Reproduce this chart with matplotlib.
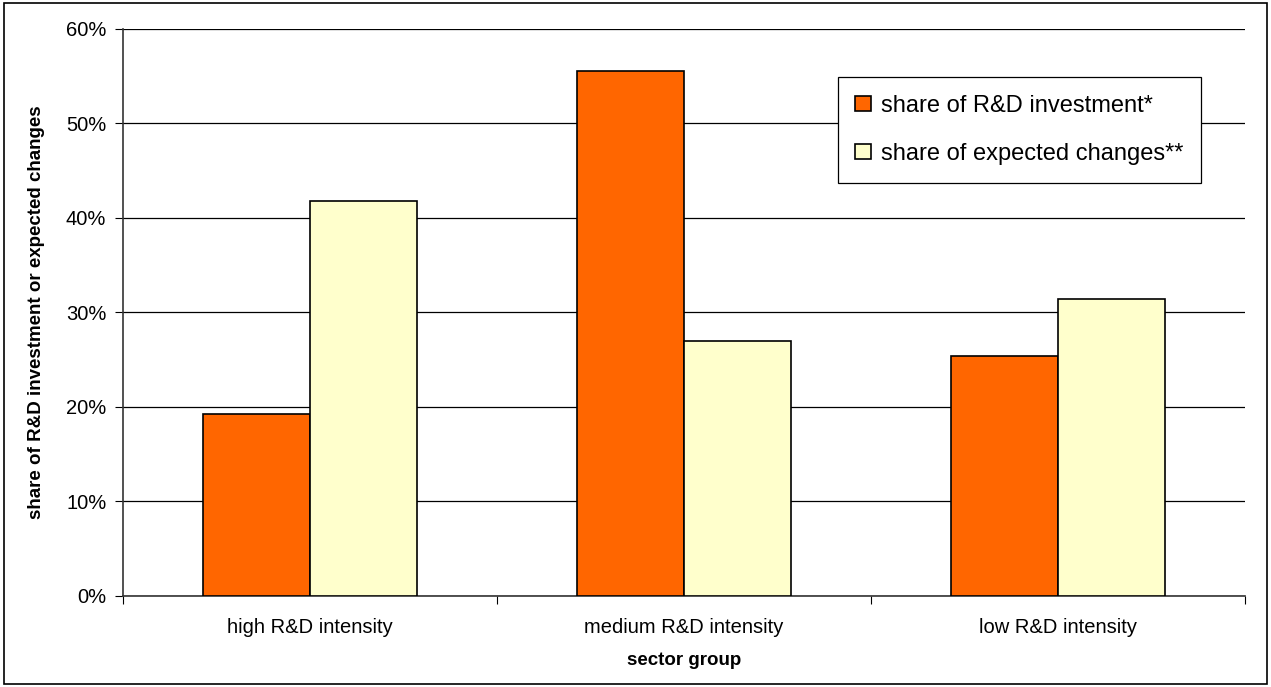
import numpy as np
import matplotlib.pyplot as plt
from matplotlib.ticker import PercentFormatter
from matplotlib.patches import Rectangle

plt.rcParams['font.family'] = ['Liberation Sans', 'DejaVu Sans']

categories = ['high R&D intensity', 'medium R&D intensity', 'low R&D intensity']
rd_investment = [19.3, 55.6, 25.4]
expected_changes = [41.8, 27.0, 31.4]
series_names = ['share of R&D investment*', 'share of expected changes**']

fig = plt.figure(figsize=(12.71, 6.87), dpi=100)
ax = fig.add_axes([0.0968, 0.1325, 0.8827, 0.8253])

x = np.arange(len(categories))
width = 0.286

ax.bar(x - width / 2, rd_investment, width=width, color='#FF6600',
       edgecolor='black', linewidth=1.2, label=series_names[0], zorder=3)
ax.bar(x + width / 2, expected_changes, width=width, color='#FFFFCC',
       edgecolor='black', linewidth=1.2, label=series_names[1], zorder=3)

ax.set_xlim(-0.5, len(categories) - 0.5)
ax.set_ylim(0, 60)
ax.set_yticks(np.arange(0, 61, 10))
ax.yaxis.set_major_formatter(PercentFormatter(decimals=0))

# category boundaries as tick marks, labels in the middle
ax.set_xticks(np.arange(-0.5, len(categories), 1))
ax.set_xticklabels([])
ax.set_xticks(x, minor=True)
ax.set_xticklabels(categories, minor=True)
ax.tick_params(axis='x', which='minor', length=0, pad=16, labelsize=14.5)
ax.tick_params(axis='x', which='major', length=6, direction='out', color='black')
ax.tick_params(axis='y', length=6, labelsize=14.5, pad=6)

ax.grid(axis='y', color='black', linewidth=0.9, zorder=0)
ax.spines['top'].set_visible(False)
ax.spines['right'].set_visible(False)
ax.spines['left'].set_linewidth(1.2)
ax.spines['bottom'].set_linewidth(1.2)
ax.spines['left'].set_color('#333333')
ax.spines['bottom'].set_color('#333333')

ax.set_xlabel('sector group', fontweight='bold', fontsize=13.5, labelpad=11)
ax.set_ylabel('share of R&D investment or expected changes', fontweight='bold',
              fontsize=13.5, labelpad=15)

leg = ax.legend(loc='upper left', bbox_to_anchor=(0.637, 0.915), fontsize=17,
                frameon=True, fancybox=False, edgecolor='black', framealpha=1,
                handlelength=0.65, handleheight=0.65, labelspacing=1.1,
                borderpad=0.75, handletextpad=0.45, borderaxespad=0)
leg.get_frame().set_linewidth(0.9)

# outer frame around the whole chart area
fig.patches.append(Rectangle((0.003, 0.004), 0.994, 0.992, transform=fig.transFigure,
                             fill=False, edgecolor='black', linewidth=1.2))

fig.savefig('out.png', dpi=100)
